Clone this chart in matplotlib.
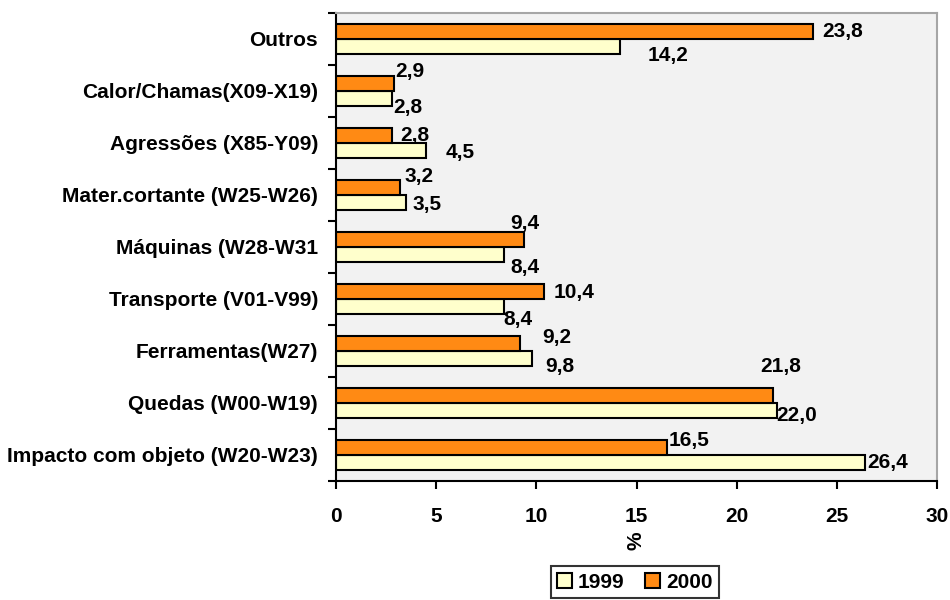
import numpy as np
import matplotlib.pyplot as plt
from matplotlib.ticker import FixedLocator

plt.rcParams['font.family'] = ['Liberation Sans', 'DejaVu Sans']
plt.rcParams['font.weight'] = 'bold'

categorias = ["Outros", "Calor/Chamas(X09-X19)", "Agressões (X85-Y09)",
              "Mater.cortante (W25-W26)", "Máquinas (W28-W31", "Transporte (V01-V99)",
              "Ferramentas(W27)", "Quedas (W00-W19)", "Impacto com objeto (W20-W23)"]
v1999 = [14.2, 2.8, 4.5, 3.5, 8.4, 8.4, 9.8, 22.0, 26.4]
v2000 = [23.8, 2.9, 2.8, 3.2, 9.4, 10.4, 9.2, 21.8, 16.5]
anos = ["1999", "2000"]
cores = ["#FFFFCC", "#FF8A14"]

# label offsets in pixels (dx, dy) from bar end / bar centre, dy positive = down
off1999 = [(27, 8.5), (1, 8.5), (19, 1.5), (6, 1.5), (6, 12.5), (-1, 12.5), (13, 7.5), (0, 4.5), (2, 0)]
off2000 = [(9, 0), (1, -11.5), (8, 0), (4, -10.5), (-14, -15.5), (9, 1.5), (22, -5.5), (-12, -28.5), (2, -6.5)]

fs = 15

fig = plt.figure(figsize=(9.5, 6), dpi=100)
ax = fig.add_axes([336/950, 1 - 481/600, 601/950, 468/600])
ax.set_facecolor("#F2F2F2")

n = len(categorias)
y = n - 1 - np.arange(n)
h = 0.29
b1 = ax.barh(y - h/2, v1999, height=h, color=cores[0], edgecolor="black", linewidth=1.5, label=anos[0])
b2 = ax.barh(y + h/2, v2000, height=h, color=cores[1], edgecolor="black", linewidth=1.5, label=anos[1])

for bars, vals, offs in [(b1, v1999, off1999), (b2, v2000, off2000)]:
    for bar, v, (dx, dy) in zip(bars, vals, offs):
        ax.annotate(f"{v:.1f}".replace(".", ","),
                    (bar.get_width(), bar.get_y() + bar.get_height()/2),
                    xytext=(dx*0.72, -dy*0.72), textcoords="offset points",
                    ha="left", va="center", fontsize=fs, fontweight="bold")

ax.set_xlim(0, 30)
ax.set_ylim(-0.5, n - 0.5)
ax.set_xticks(range(0, 31, 5))
ax.set_yticks(y)
ax.set_yticklabels(categorias)
ax.yaxis.set_minor_locator(FixedLocator(np.arange(-0.5, n, 1)))
ax.tick_params(axis="y", which="major", length=0, pad=13, labelsize=fs)
ax.tick_params(axis="y", which="minor", length=6, width=1.5, direction="out")
ax.tick_params(axis="x", length=6, width=1.5, direction="out", pad=13, labelsize=fs)
for lab in ax.get_xticklabels() + ax.get_yticklabels():
    lab.set_fontweight("bold")

ax.set_xlabel("%", fontsize=fs, fontweight="bold", rotation=90, labelpad=4)

for s in ["left", "bottom"]:
    ax.spines[s].set_linewidth(1.5)
    ax.spines[s].set_color("black")
for s in ["top", "right"]:
    ax.spines[s].set_linewidth(1.5)
    ax.spines[s].set_color("#A6A6A6")

leg = fig.legend(handles=[b1, b2], labels=anos, loc="center", bbox_to_anchor=(635/950, 1 - 582/600),
                 ncol=2, frameon=True, fancybox=False, edgecolor="black",
                 handlelength=0.7, handleheight=0.7, handletextpad=0.3, columnspacing=1.0,
                 borderpad=0.3, prop={"weight": "bold", "size": fs})
leg.get_frame().set_linewidth(1.5)

fig.savefig("out.png", dpi=100)
